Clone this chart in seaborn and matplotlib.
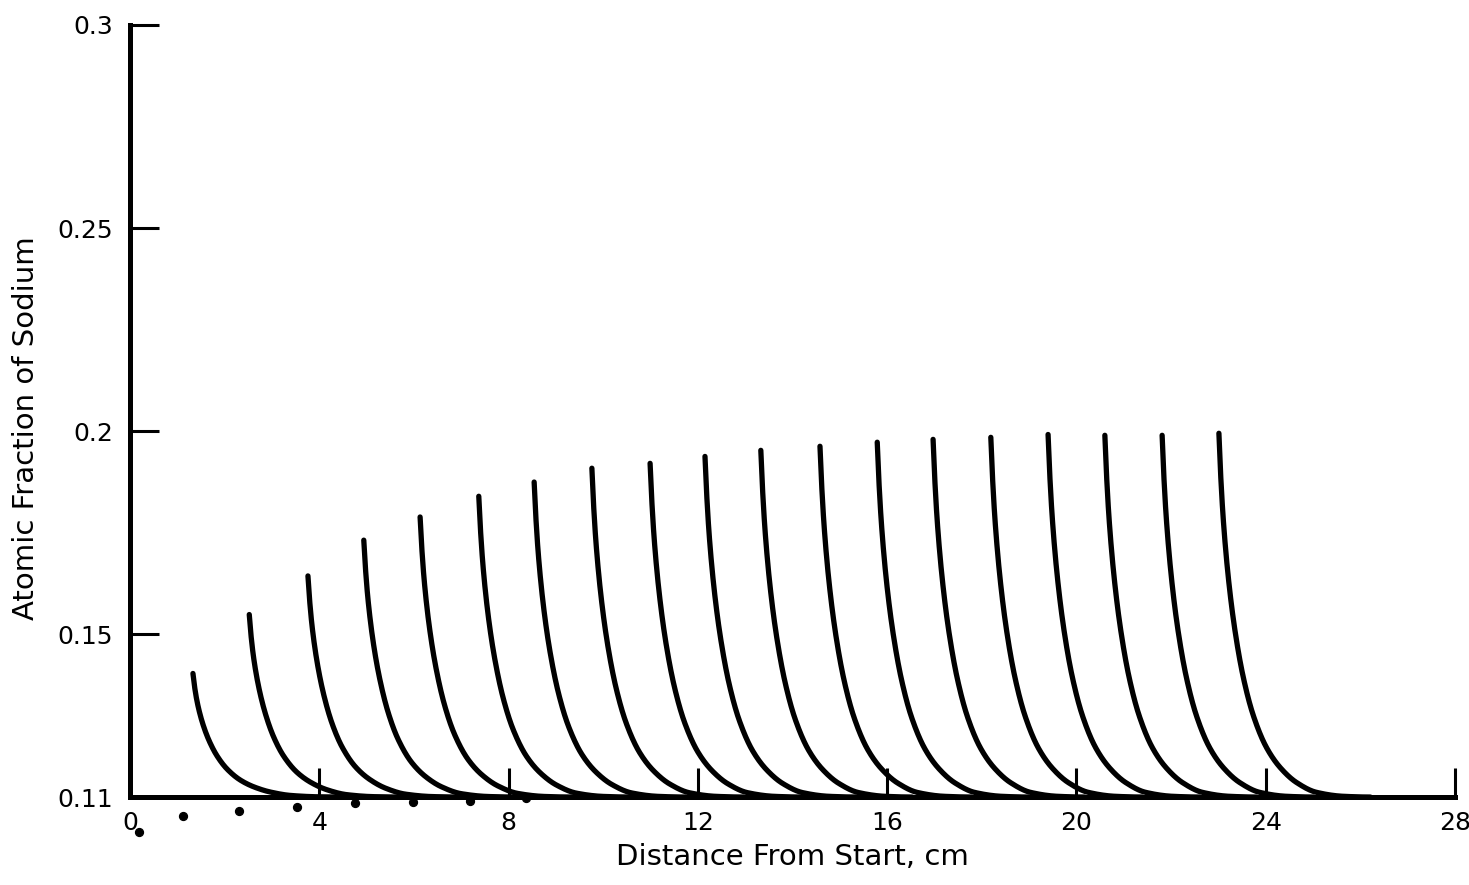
import numpy as np
import pandas as pd
import matplotlib
matplotlib.use("Agg")
import matplotlib.pyplot as plt
import seaborn as sns

# ---- data ----
# start position (cm) and peak atomic fraction of each profile
start_x = [1.33, 2.52, 3.76, 4.94, 6.13, 7.37, 8.54, 9.76, 10.99, 12.15,
           13.33, 14.58, 15.79, 16.97, 18.19, 19.40, 20.60, 21.81, 23.01]
peak_y = [0.1404, 0.1549, 0.1644, 0.1732, 0.1789, 0.1840, 0.1875, 0.1909,
          0.1921, 0.1938, 0.1953, 0.1963, 0.1973, 0.1980, 0.1985, 0.1992,
          0.1990, 0.1990, 0.1995]
baseline = 0.11
# decay profile: distance past start (cm), fraction of peak excess
profile_dx = [0, 0.034, 0.091, 0.197, 0.338, 0.514, 0.725, 1.006, 1.302,
              1.64, 2.06, 2.63, 3.2]
profile_rel = [1.0, 0.894, 0.766, 0.606, 0.459, 0.330, 0.225, 0.136, 0.080,
               0.040, 0.013, 0.002, 0.0]
# small dots below the axis
dot_x = [0.19, 1.12, 2.30, 3.53, 4.75, 5.98, 7.19, 8.37]
dot_y = [0.1014, 0.1053, 0.1065, 0.1075, 0.1085, 0.1087, 0.1090, 0.1097]

x_ticks = [0, 4, 8, 12, 16, 20, 24, 28]
y_ticks = [0.11, 0.15, 0.2, 0.25, 0.3]
y_tick_labels = ["0.11", "0.15", "0.2", "0.25", "0.3"]


def pchip(xk, yk, xq):
    """Monotone cubic (Fritsch-Carlson) interpolation through the read points."""
    xk = np.asarray(xk, float)
    yk = np.asarray(yk, float)
    h = np.diff(xk)
    d = np.diff(yk) / h
    m = np.zeros_like(yk)
    for k in range(1, len(xk) - 1):
        if d[k - 1] * d[k] > 0:
            w1 = 2 * h[k] + h[k - 1]
            w2 = h[k] + 2 * h[k - 1]
            m[k] = (w1 + w2) / (w1 / d[k - 1] + w2 / d[k])
    m[0] = d[0]
    m[-1] = 0.0
    idx = np.clip(np.searchsorted(xk, xq) - 1, 0, len(xk) - 2)
    t = (xq - xk[idx]) / h[idx]
    h00 = 2 * t**3 - 3 * t**2 + 1
    h10 = t**3 - 2 * t**2 + t
    h01 = -2 * t**3 + 3 * t**2
    h11 = t**3 - t**2
    return (h00 * yk[idx] + h10 * h[idx] * m[idx]
            + h01 * yk[idx + 1] + h11 * h[idx] * m[idx + 1])


# build long table (smooth monotone interpolation of the read profile)
fine = np.linspace(0, profile_dx[-1], 400)
rel_fine = np.clip(pchip(profile_dx, profile_rel, fine), 0, 1)
rows = []
for i, (x0, pk) in enumerate(zip(start_x, peak_y)):
    for dx, r in zip(fine, rel_fine):
        rows.append({"curve": i, "x": x0 + dx, "y": baseline + (pk - baseline) * r})
df = pd.DataFrame(rows)

sns.set_style("white")
plt.rcParams["font.family"] = ["DejaVu Sans"]
plt.rcParams["text.color"] = "black"
plt.rcParams["axes.labelcolor"] = "black"

fig = plt.figure(figsize=(14.69, 8.85), dpi=100)
ax = fig.add_axes([0.0885, 0.0994, 0.902, 0.8726])

sns.lineplot(data=df, x="x", y="y", units="curve", estimator=None,
             color="black", lw=3.8, legend=False, ax=ax, sort=False)
ax.scatter(dot_x, dot_y, s=32, color="black", clip_on=False, zorder=5)

ax.set_xlim(0, 28)
ax.set_ylim(0.11, 0.3)
ax.set_xticks(x_ticks)
ax.set_xticklabels([str(v) for v in x_ticks])
ax.set_yticks(y_ticks)
ax.set_yticklabels(y_tick_labels)

for s in ["top", "right"]:
    ax.spines[s].set_visible(False)
for s in ["left", "bottom"]:
    ax.spines[s].set_linewidth(3.6)
    ax.spines[s].set_color("black")

ax.tick_params(axis="both", which="major", bottom=True, left=True,
               direction="in", length=21, width=2.2, color="black",
               labelsize=18, labelcolor="black")
ax.tick_params(axis="x", pad=10)
ax.tick_params(axis="y", pad=12)

ax.set_xlabel("Distance From Start, cm", fontsize=21, labelpad=6, color="black")
ax.set_ylabel("Atomic Fraction of Sodium", fontsize=21, color="black")
ax.yaxis.set_label_coords(-0.068, 0.478)

fig.savefig("out.png", dpi=100, facecolor="white")
